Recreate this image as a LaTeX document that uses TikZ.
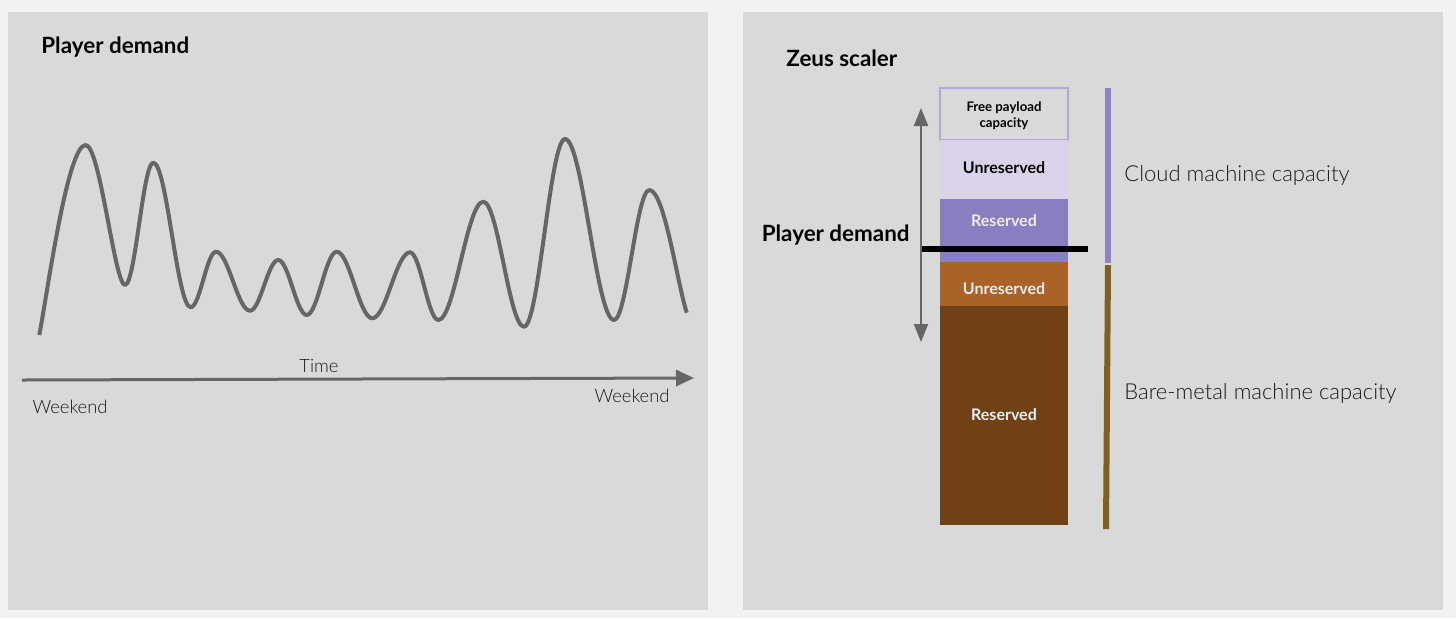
\documentclass[tikz,border=0pt]{standalone}
\usepackage{fontspec}
\setmainfont{Lato}
\IfFontExistsTF{Lato Light}{\newfontfamily\lightfont{Lato Light}}{\newfontfamily\lightfont{Lato}}
\usetikzlibrary{arrows.meta}
\definecolor{pagebg}{HTML}{F2F2F2}
\definecolor{panelbg}{HTML}{D9D9D9}
\definecolor{wavegray}{HTML}{666666}
\definecolor{lavborder}{HTML}{B4A7D6}
\definecolor{lavlight}{HTML}{D9D2E9}
\definecolor{purplebox}{HTML}{8A7DC0}
\definecolor{orangebox}{HTML}{AA6226}
\definecolor{brownbox}{HTML}{704016}
\definecolor{cloudbar}{HTML}{8F83C6}
\definecolor{metalbar}{HTML}{7F6020}
\definecolor{inktext}{HTML}{1A1A1A}
\definecolor{boxtext}{HTML}{F0ECF4}
\tikzset{
  titletext/.style={font=\bfseries\fontsize{11.2}{13}\selectfont, text=black, inner sep=0pt},
  lighttext/.style={font=\lightfont\fontsize{11}{13}\selectfont, text=inktext, inner sep=0pt},
  axistext/.style={font=\lightfont\fontsize{9.2}{11}\selectfont, text=inktext, inner sep=0pt},
  stackbox/.style={anchor=north, minimum width=64pt, inner sep=0pt, outer sep=0pt},
  boxlabel/.style={font=\bfseries\fontsize{8}{10}\selectfont, align=center, inner sep=0pt},
  waveline/.style={draw=wavegray, line width=2pt, line join=round},
  grayarrow/.style={draw=wavegray, line width=1pt},
}
\begin{document}
\begin{tikzpicture}[x=0.5pt,y=-0.5pt]
\fill[pagebg] (0,0) rectangle (1456,618);
\useasboundingbox (0,0) rectangle (1456,618);
\fill[panelbg] (8,12) rectangle (708,610);
\fill[panelbg] (743,12) rectangle (1443,610);

% left panel
\node[titletext, anchor=west] (ltitle) at (41,47) {Player demand};

\draw[waveline] (39.3,335) .. controls +(9,-48) and +(-18,0) .. (85.7,145)
 .. controls +(14.3,0) and +(-10.3,0) .. (125,285)
 .. controls +(10.3,0) and +(-10.3,0) .. (153.3,162.7)
 .. controls +(13.6,0) and +(-13.6,0) .. (190.7,307.3)
 .. controls +(9.2,0) and +(-9.2,0) .. (216,251.7)
 .. controls +(12.4,0) and +(-12.4,0) .. (250,310.7)
 .. controls +(10.3,0) and +(-10.3,0) .. (278.3,260)
 .. controls +(10.3,0) and +(-10.3,0) .. (306.7,315)
 .. controls +(10.9,0) and +(-10.9,0) .. (336.7,251.7)
 .. controls +(13,0) and +(-13,0) .. (372.3,318.3)
 .. controls +(13.7,0) and +(-13.7,0) .. (410,252.3)
 .. controls +(10.3,0) and +(-10.3,0) .. (438.3,320)
 .. controls +(16.4,0) and +(-16.4,0) .. (483.3,201.7)
 .. controls +(14.8,0) and +(-14.8,0) .. (524,326.7)
 .. controls +(14.9,0) and +(-14.9,0) .. (565,139)
 .. controls +(17.8,0) and +(-17.8,0) .. (614,320)
 .. controls +(12.9,0) and +(-12.9,0) .. (649.3,190)
 .. controls +(15,0) and +(-10,-32) .. (686.7,312.7);

\coordinate (tstart) at (22,380);
\coordinate (tend) at (694,378);
\draw[grayarrow, line width=1.5pt, -{Triangle[length=9pt,width=8pt]}] (tstart) -- (tend);
\node[axistext] (timelbl) at (319,366) {Time};
\node[axistext] (wk1) at (70,407) {Weekend};
\node[axistext] (wk2) at (632,396) {Weekend};

% right panel
\node[titletext, anchor=west] (rtitle) at (786,58) {Zeus scaler};

\node[stackbox, fill=panelbg, minimum height=26pt] (free) at (1004,88) {};
\draw[lavborder, line width=0.9pt] (free.north west) rectangle (free.south east);
\node[stackbox, fill=lavlight, minimum height=29.5pt] (unres1) at (free.south) {};
\node[stackbox, fill=purplebox, minimum height=31.4pt] (res1) at (unres1.south) {};
\node[stackbox, fill=orangebox, minimum height=22pt] (unres2) at (res1.south) {};
\node[stackbox, fill=brownbox, minimum height=109.5pt] (res2) at (unres2.south) {};

\node[boxlabel, font=\bfseries\fontsize{6.6}{8}\selectfont, text=black] (freelbl) at (1004,116) {Free payload\\capacity};
\node[boxlabel, text=black] (unres1lbl) at (1004,168) {Unreserved};
\node[boxlabel, text=boxtext] (res1lbl) at (1004,221) {Reserved};
\node[boxlabel, text=boxtext] (unres2lbl) at (1004,289) {Unreserved};
\node[boxlabel, text=boxtext] (res2lbl) at (1004,415) {Reserved};

\coordinate (dtop) at (921,108);
\coordinate (dbot) at (921,342);
\draw[grayarrow, {Triangle[length=9pt,width=7pt]}-{Triangle[length=9pt,width=7pt]}] (dtop) -- (dbot);

\coordinate (bl1) at (922,249);
\coordinate (bl2) at (1088,249);
\draw[black, line width=3pt] (bl1) -- (bl2);

\node[titletext, anchor=east] (pdlbl) at (910,235) {Player demand};

\fill[cloudbar] (1105,88) rectangle (1111,263);
\fill[metalbar] (1105,265) -- (1111,265) -- (1109,529) -- (1103,529) -- cycle;

\node[lighttext, anchor=west] (cloudlbl) at (1124,175) {Cloud machine capacity};
\node[lighttext, anchor=west] (metallbl) at (1124,393) {Bare-metal machine capacity};
\end{tikzpicture}
\end{document}
